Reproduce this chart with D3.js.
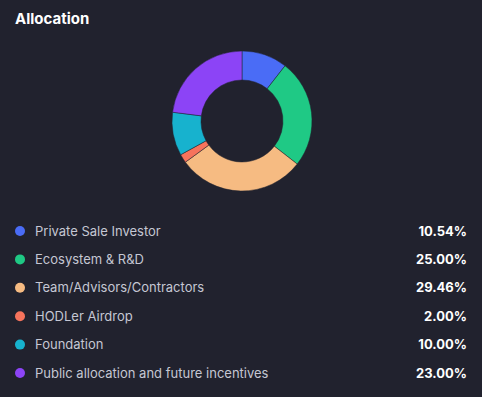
<!DOCTYPE html>
<html><head><meta charset="utf-8">
<script src="https://cdn.jsdelivr.net/npm/d3@7/dist/d3.min.js"></script>
<style>
html,body{margin:0;padding:0;background:#21222e;}
svg{display:block;}
</style></head><body>
<script>
const categories = ["Private Sale Investor","Ecosystem & R&D","Team/Advisors/Contractors","HODLer Airdrop","Foundation","Public allocation and future incentives"];
const values = [10.54, 25.00, 29.46, 2.00, 10.00, 23.00];
const labels = ["10.54%","25.00%","29.46%","2.00%","10.00%","23.00%"];
const colors = ["#4a6cf6","#1fc985","#f6bb82","#f6735c","#17b2ce","#8c44f6"];

const W = 482, H = 397;
const svg = d3.select("body").append("svg").attr("width", W).attr("height", H);
svg.append("rect").attr("width", W).attr("height", H).attr("fill", "#21222e");

svg.append("text").attr("x", 15).attr("y", 24)
  .attr("font-family", "Inter, sans-serif").attr("font-weight", 700)
  .attr("font-size", 15).attr("fill", "#ffffff").text("Allocation");

const pie = d3.pie().sort(null).value(d => d)(values);
const arc = d3.arc().innerRadius(41).outerRadius(70);
const g = svg.append("g").attr("transform", "translate(242,121)");
g.selectAll("path").data(pie).join("path")
  .attr("d", arc)
  .attr("fill", (d, i) => colors[i])
  .attr("stroke", "#21222e").attr("stroke-width", 0.5);

const y = d3.scalePoint().domain(categories).range([231, 373]);
const leg = svg.append("g");
const rows = leg.selectAll("g").data(categories).join("g")
  .attr("transform", d => `translate(0,${y(d)})`);
rows.append("circle").attr("cx", 20).attr("cy", 0).attr("r", 5)
  .attr("fill", (d, i) => colors[i]);
rows.append("text").attr("x", 35).attr("y", 0).attr("dy", "0.35em")
  .attr("font-family", "Inter, sans-serif").attr("font-size", 13)
  .attr("fill", "#c5c7d3").text(d => d);
rows.append("text").attr("x", 467).attr("y", 0).attr("dy", "0.35em")
  .attr("text-anchor", "end")
  .attr("font-family", "Inter, sans-serif").attr("font-weight", 700).attr("font-size", 13)
  .attr("fill", "#ffffff").text((d, i) => labels[i]);
</script>
</body></html>
